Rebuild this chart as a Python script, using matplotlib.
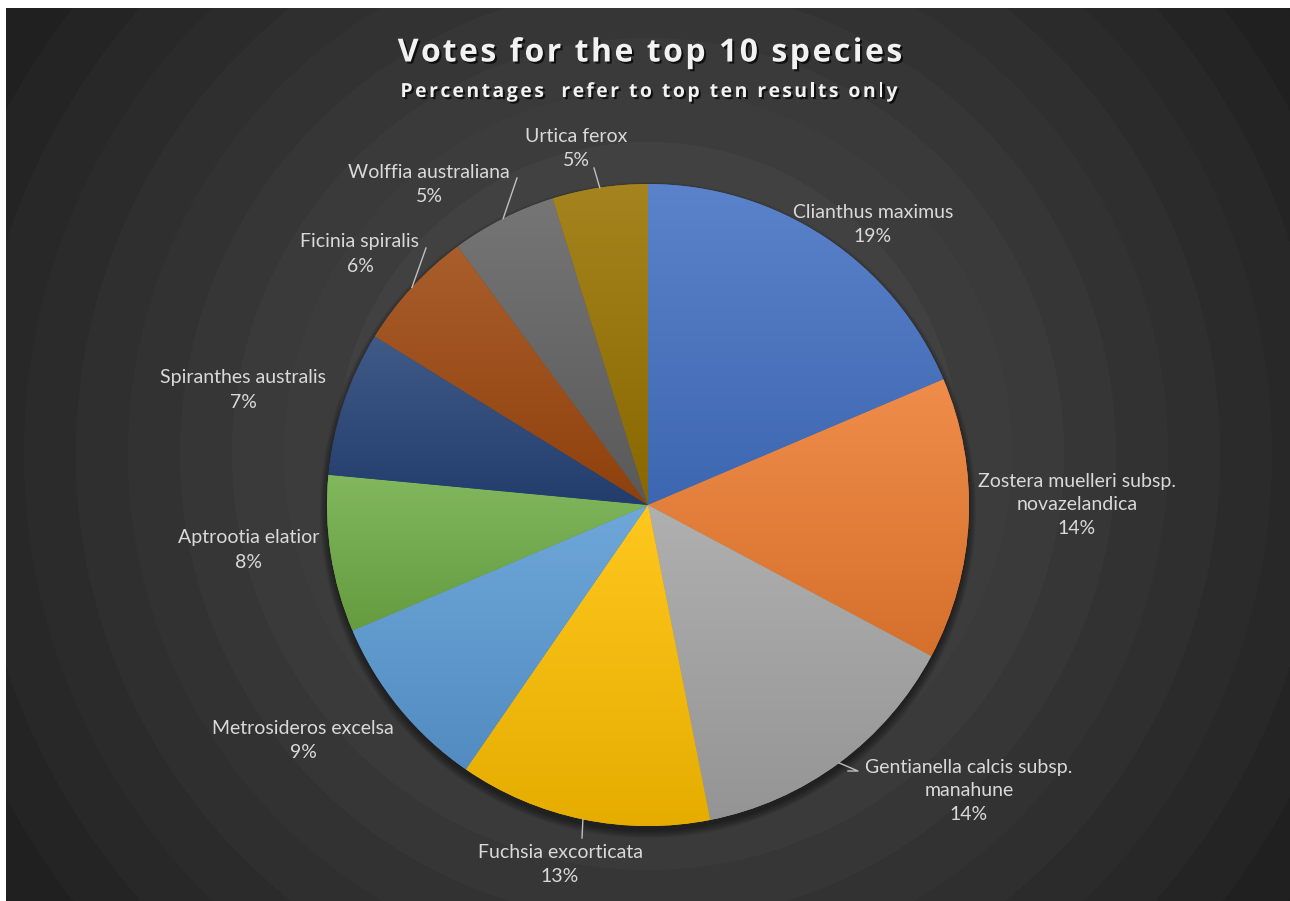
import numpy as np
import matplotlib.pyplot as plt
import matplotlib.patheffects as PathEffects
from matplotlib.colors import to_rgb
from matplotlib.patches import Circle

# share of votes (percent of top ten), clockwise from 12 o'clock
species = ['Clianthus maximus', 'Zostera muelleri subsp.\nnovazelandica',
           'Gentianella calcis subsp.\nmanahune', 'Fuchsia excorticata',
           'Metrosideros excelsa', 'Aptrootia elatior', 'Spiranthes australis',
           'Ficinia spiralis', 'Wolffia australiana', 'Urtica ferox']
share = [18.6, 14.2, 14.1, 12.7, 9.0, 7.9, 7.3, 6.1, 5.3, 4.8]
colors = ['#4472C4', '#ED7D31', '#A5A5A5', '#FFC000', '#5B9BD5',
          '#70AD47', '#264478', '#9E480E', '#636363', '#997300']

W, H = 1290, 901
# label block centres, in image pixels (y down)
label_xy = [(873, 225), (1077, 505), (969, 791), (560, 864), (303, 741),
            (249, 550), (243, 390), (360, 254), (429, 185), (576, 148)]
# leader lines: slice index -> points on the label side (image pixels)
leaders = {2: [(858, 771), (848, 771)], 3: [(582, 838)], 7: [(426, 248)],
           8: [(517, 178)], 9: [(594, 168)]}

fig = plt.figure(figsize=(12.9, 9.01), dpi=100, facecolor='white')
ax = fig.add_axes([0, 0, 1, 1])
ax.set_xlim(0, W)
ax.set_ylim(0, H)

# banded radial background
xs = np.arange(6, W) + 0.5
ys = np.arange(8, H) + 0.5
X, Y = np.meshgrid(xs, ys)
rr = np.hypot(X - 648, Y - 454)
band = np.floor(rr / 52) * 52 + 26
lev = np.clip(0x55 - band * (0x55 - 0x1f) / 780, 0x1e, 0x60) / 255
ax.imshow(lev, cmap='gray', vmin=0, vmax=1, extent=(6, W, 0, H - 8),
          origin='upper', interpolation='nearest', aspect='auto', zorder=0)

cx, cy, R = 648, H - 505, 321

# soft shadow under the pie
for k in range(8):
    ax.add_patch(Circle((cx, cy - 5), R + 7 - k, color='black', alpha=0.06,
                        lw=0, zorder=2))

wedges, _ = ax.pie(share, colors=colors, startangle=90, counterclock=False,
                   center=(cx, cy), radius=R, frame=True,
                   wedgeprops=dict(linewidth=0, zorder=3))

# vertical gradient inside each slice
t = np.linspace(0, 1, 256)[:, None, None]
for w, c in zip(wedges, colors):
    base = np.array(to_rgb(c))
    top = base + (1 - base) * 0.12
    bot = base * 0.9
    img = top * (1 - t) + bot * t
    bb = w.get_path().get_extents()
    im = ax.imshow(img, extent=(bb.x0, bb.x1, bb.y0, bb.y1), origin='upper',
                   aspect='auto', interpolation='bilinear', zorder=4)
    im.set_clip_path(w)

tot = sum(share)
for lab, s, (lx, ly) in zip(species, share, label_xy):
    ax.text(lx, H - ly, f'{lab}\n{100 * s / tot:.0f}%', ha='center', va='center',
            fontsize=14, family='Lato', color='#d9d9d9', linespacing=1.5,
            zorder=6)

for i, pts in leaders.items():
    w = wedges[i]
    th = np.radians((w.theta1 + w.theta2) / 2)
    px = [cx + R * np.cos(th)] + [p[0] for p in pts]
    py = [cy + R * np.sin(th)] + [H - p[1] for p in pts]
    ax.plot(px, py, color='#bfbfbf', lw=1, zorder=5)

shadow = [PathEffects.SimplePatchShadow(offset=(1.5, -1.5), shadow_rgbFace='black',
                                        alpha=0.7), PathEffects.Normal()]
renderer = fig.canvas.get_renderer()


def spaced_text(xc, y, s, gap, **kw):
    # Excel-style expanded letter spacing: place each char by its prefix width
    def width(sub):
        tmp = ax.text(0, 0, sub, **kw)
        wd = tmp.get_window_extent(renderer).width if sub.strip() else 0
        tmp.remove()
        return wd
    full = width(s.replace(' ', '\u00a0')) + gap * (len(s) - 1)
    x0 = xc - full / 2
    for i, ch in enumerate(s):
        if ch == ' ':
            continue
        off = width(s[:i].replace(' ', '\u00a0')) + gap * i
        ax.text(x0 + off, y, ch, ha='left', va='center', path_effects=shadow,
                zorder=6, **kw)


spaced_text(650, H - 53, 'Votes for the top 10 species', 2.5, fontsize=23,
            family='Open Sans', weight='bold', color='#f2f2f2')
spaced_text(649, H - 92, 'Percentages  refer to top ten results only', 2.4,
            fontsize=14, family='Open Sans', weight='bold', color='#f2f2f2')

ax.axis('off')

plt.savefig('out.png', dpi=100, facecolor='white')
plt.close('all')
